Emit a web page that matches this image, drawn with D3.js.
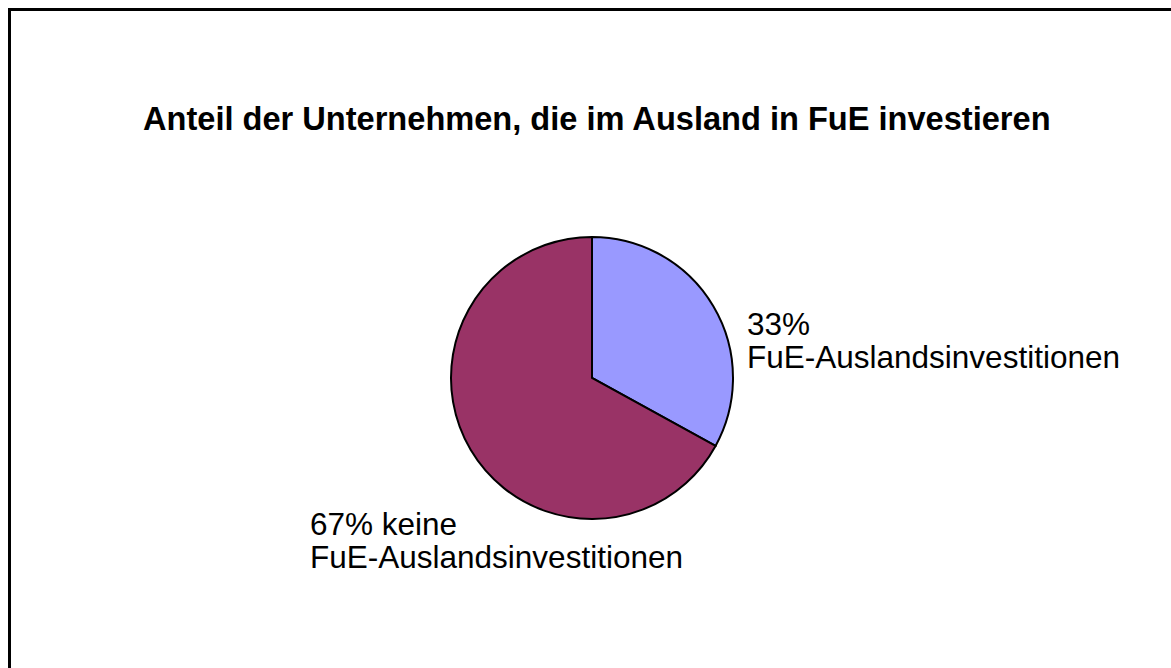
<!DOCTYPE html>
<html>
<head>
<meta charset="utf-8">
<script src="https://cdn.jsdelivr.net/npm/d3@7"></script>
<style>
  body { margin: 0; background: #fff; }
  text { font-family: Arial, "Liberation Sans", sans-serif; fill: #000; }
</style>
</head>
<body>
<div id="chart"></div>
<script>
/* Data */
const title = 'Anteil der Unternehmen, die im Ausland in FuE investieren';
const categories = ['FuE-Auslandsinvestitionen', 'keine FuE-Auslandsinvestitionen'];
const values = [33, 67];
const labelLines = [
  ['33%', 'FuE-Auslandsinvestitionen'],
  ['67% keine', 'FuE-Auslandsinvestitionen'],
];
const colors = ['#9999FF', '#993366'];

const width = 1171;
const height = 668;

const svg = d3
  .select('#chart')
  .append('svg')
  .attr('width', width)
  .attr('height', height);

// frame (right and bottom edges run off the page)
svg
  .append('rect')
  .attr('x', 9.5)
  .attr('y', 9.5)
  .attr('width', width + 20)
  .attr('height', height + 20)
  .attr('fill', '#fff')
  .attr('stroke', '#000')
  .attr('stroke-width', 3);

svg
  .append('text')
  .attr('x', 143)
  .attr('y', 130)
  .style('font-size', '32.6px')
  .style('font-weight', 'bold')
  .text(title);

// Pie
const cx = 592,
  cy = 378,
  radius = 141;

const pie = d3.pie().sort(null).value((d) => d);
const arc = d3.arc().innerRadius(0).outerRadius(radius);

const g = svg.append('g').attr('transform', `translate(${cx}, ${cy})`);

g.selectAll('path.slice')
  .data(pie(values))
  .join('path')
  .classed('slice', true)
  .attr('d', arc)
  .attr('fill', (d, i) => colors[i])
  .attr('stroke', '#000')
  .attr('stroke-width', 2)
  .append('title')
  .text((d, i) => categories[i] + ': ' + values[i] + '%');

// labels
const labelPos = [
  { x: 747, y: 335 },
  { x: 310, y: 535 },
];

labelLines.forEach((lines, i) => {
  const t = svg
    .append('text')
    .attr('x', labelPos[i].x)
    .attr('y', labelPos[i].y)
    .style('font-size', '31.5px');
  lines.forEach((line, j) => {
    t.append('tspan')
      .attr('x', labelPos[i].x)
      .attr('dy', j == 0 ? 0 : 33)
      .text(line);
  });
});
</script>
</body>
</html>
